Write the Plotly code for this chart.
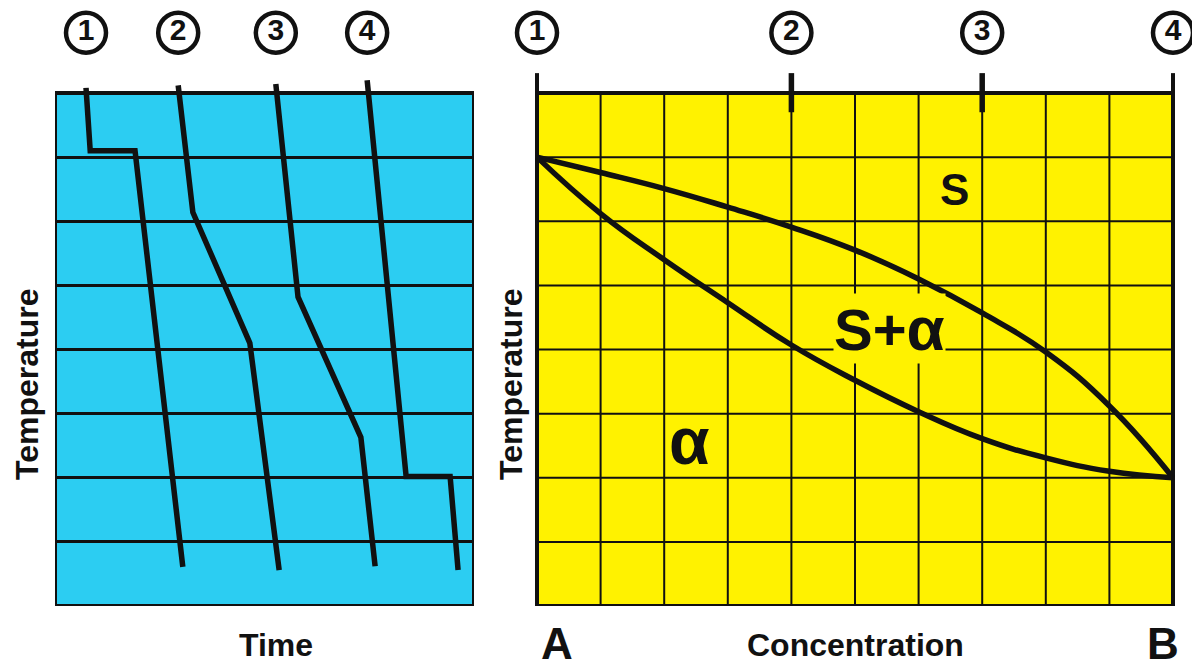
import plotly.graph_objects as go

# the page puts the figure 8px in from the top-left corner
OFF = 8
W, H = 1200 - OFF, 667 - OFF

# cooling curves (time, temperature)
curve1_t = [0.74, 0.84, 1.91, 3.05]
curve1_T = [8.08, 7.10, 7.10, 0.61]
curve2_t = [2.94, 3.29, 4.65, 5.35]
curve2_T = [8.12, 6.14, 4.10, 0.56]
curve3_t = [5.27, 5.80, 7.30, 7.64]
curve3_T = [8.14, 4.82, 2.63, 0.62]
curve4_t = [7.45, 8.38, 9.43, 9.62]
curve4_T = [8.20, 2.02, 2.02, 0.56]
curve_labels = ['1', '2', '3', '4']

# phase diagram: liquidus / solidus (concentration of B, temperature)
conc = [0.0, 0.1, 0.2, 0.3, 0.4, 0.5, 0.6, 0.7, 0.8, 0.9, 1.0]
liquidus = [7.0, 6.76, 6.51, 6.22, 5.91, 5.55, 5.10, 4.57, 3.96, 3.12, 2.0]
solidus = [7.0, 6.12, 5.40, 4.73, 4.07, 3.52, 3.03, 2.61, 2.31, 2.10, 2.0]
alloy_conc = [0.0, 0.4, 0.7, 1.0]

BLUE = '#2ccdf2'
YELLOW = '#fff200'
INK = '#111111'
FONT = 'Liberation Sans'

T_TOP = 8          # top of the coloured boxes
PX_PER_T = 64.125  # box height 513px / 8 rows
Y_BOTTOM = 606     # screen y of the box bottom
LABEL_T = 8.94     # row of the circled numbers
TICK_T = 8.31      # top of the alloy tick marks


def px_x(p):
	return (p - OFF) / W


def px_y(p):
	return (OFF + H - p) / H


y_top = (Y_BOTTOM - OFF) / PX_PER_T
fig = go.Figure()

# left panel: cooling curves
for t, T in [(curve1_t, curve1_T), (curve2_t, curve2_T), (curve3_t, curve3_T), (curve4_t, curve4_T)]:
	fig.add_trace(go.Scatter(x=t, y=T, mode='lines', xaxis='x', yaxis='y',
		line=dict(color=INK, width=5.5), hoverinfo='skip'))

circle_marker = dict(symbol='circle-open', size=40, color=INK, line=dict(width=4.5))
circle_font = dict(family=FONT, size=30, color=INK, weight='bold')

fig.add_trace(go.Scatter(
	x=[curve1_t[0], curve2_t[0], curve3_t[0], curve4_t[0]],
	y=[LABEL_T] * 4, xaxis='x', yaxis='y',
	mode='markers+text', text=curve_labels, textposition='middle center',
	textfont=circle_font, marker=circle_marker,
	cliponaxis=False, hoverinfo='skip'))

# right panel: phase diagram
fig.add_trace(go.Scatter(x=conc, y=liquidus, mode='lines', xaxis='x2', yaxis='y2',
	line=dict(color=INK, width=5.5, shape='spline', smoothing=1.3), hoverinfo='skip'))
fig.add_trace(go.Scatter(x=conc, y=solidus, mode='lines', xaxis='x2', yaxis='y2',
	line=dict(color=INK, width=5.5, shape='spline', smoothing=1.3), hoverinfo='skip'))

fig.add_trace(go.Scatter(
	x=alloy_conc, y=[LABEL_T] * 4, xaxis='x2', yaxis='y2',
	mode='markers+text', text=curve_labels, textposition='middle center',
	textfont=circle_font, marker=circle_marker,
	cliponaxis=False, hoverinfo='skip'))

shapes = [
	dict(type='rect', xref='x', yref='y', x0=0, x1=10, y0=0, y1=T_TOP,
		fillcolor=BLUE, line=dict(color=INK, width=4), layer='below'),
	dict(type='rect', xref='x2', yref='y2', x0=0, x1=1, y0=0, y1=T_TOP,
		fillcolor=YELLOW, line=dict(color=INK, width=4), layer='below'),
]
for i in range(1, 10):
	shapes.append(dict(type='line', xref='x2', yref='y2', x0=i / 10, x1=i / 10, y0=0, y1=T_TOP,
		line=dict(color=INK, width=2), layer='between'))
for j in range(1, T_TOP):
	shapes.append(dict(type='line', xref='x2', yref='y2', x0=0, x1=1, y0=j, y1=j,
		line=dict(color=INK, width=2), layer='between'))
# tick marks above the yellow box for the four alloys
for c in alloy_conc:
	edge = c in (0.0, 1.0)
	shapes.append(dict(type='line', xref='x2', yref='y2', x0=c, x1=c,
		y0=T_TOP if edge else T_TOP - 0.3, y1=TICK_T,
		line=dict(color=INK, width=4 if edge else 5.5), layer='above'))

title_font = dict(family=FONT, size=32, color=INK, weight='bold')
big_font = dict(family=FONT, size=44, color=INK, weight='bold')


def label(text, x, y, font, **kw):
	return dict(text=text, x=x, y=y, font=font, showarrow=False,
		xanchor='center', yanchor='middle', **kw)


annotations = [
	label('Temperature', px_x(27), px_y(385), title_font, xref='paper', yref='paper', textangle=-90),
	label('Temperature', px_x(511), px_y(385), title_font, xref='paper', yref='paper', textangle=-90),
	label('Time', px_x(276), px_y(645), title_font, xref='paper', yref='paper'),
	label('Concentration', px_x(855), px_y(645), title_font, xref='paper', yref='paper'),
	label('A', px_x(557), px_y(643), big_font, xref='paper', yref='paper'),
	label('B', px_x(1163), px_y(643), big_font, xref='paper', yref='paper'),
	label('S', 0.657, 6.49, big_font, xref='x2', yref='y2'),
	label('S+<span style="font-size:62px">α</span>', 0.555, 4.32,
		dict(family=FONT, size=58, color=INK, weight='bold'),
		xref='x2', yref='y2', bgcolor=YELLOW, borderpad=0),
	label('α', 0.24, 2.57, dict(family=FONT, size=66, color=INK, weight='bold'), xref='x2', yref='y2'),
]

y_dom = [px_y(Y_BOTTOM), 1]
pad = 20 / 636  # room for the edge circles on the right panel
axis_common = dict(showticklabels=False, ticks='', zeroline=False, showline=False)

fig.update_layout(
	width=W, height=H,
	margin=dict(l=0, r=0, t=0, b=0),
	paper_bgcolor='white', plot_bgcolor='rgba(0,0,0,0)',
	showlegend=False,
	xaxis=dict(domain=[px_x(55), px_x(474)], range=[0, 10], showgrid=False, **axis_common),
	yaxis=dict(domain=y_dom, range=[0, y_top], tickvals=list(range(1, T_TOP)), showgrid=True,
		gridcolor=INK, gridwidth=2.5, **axis_common),
	xaxis2=dict(domain=[px_x(537 - 20), px_x(1173 + 20)], range=[-pad, 1 + pad], showgrid=False,
		anchor='y2', **axis_common),
	yaxis2=dict(domain=y_dom, range=[0, y_top], showgrid=False, anchor='x2', **axis_common),
	shapes=shapes,
	annotations=annotations,
)

fig.write_html("out.html")
